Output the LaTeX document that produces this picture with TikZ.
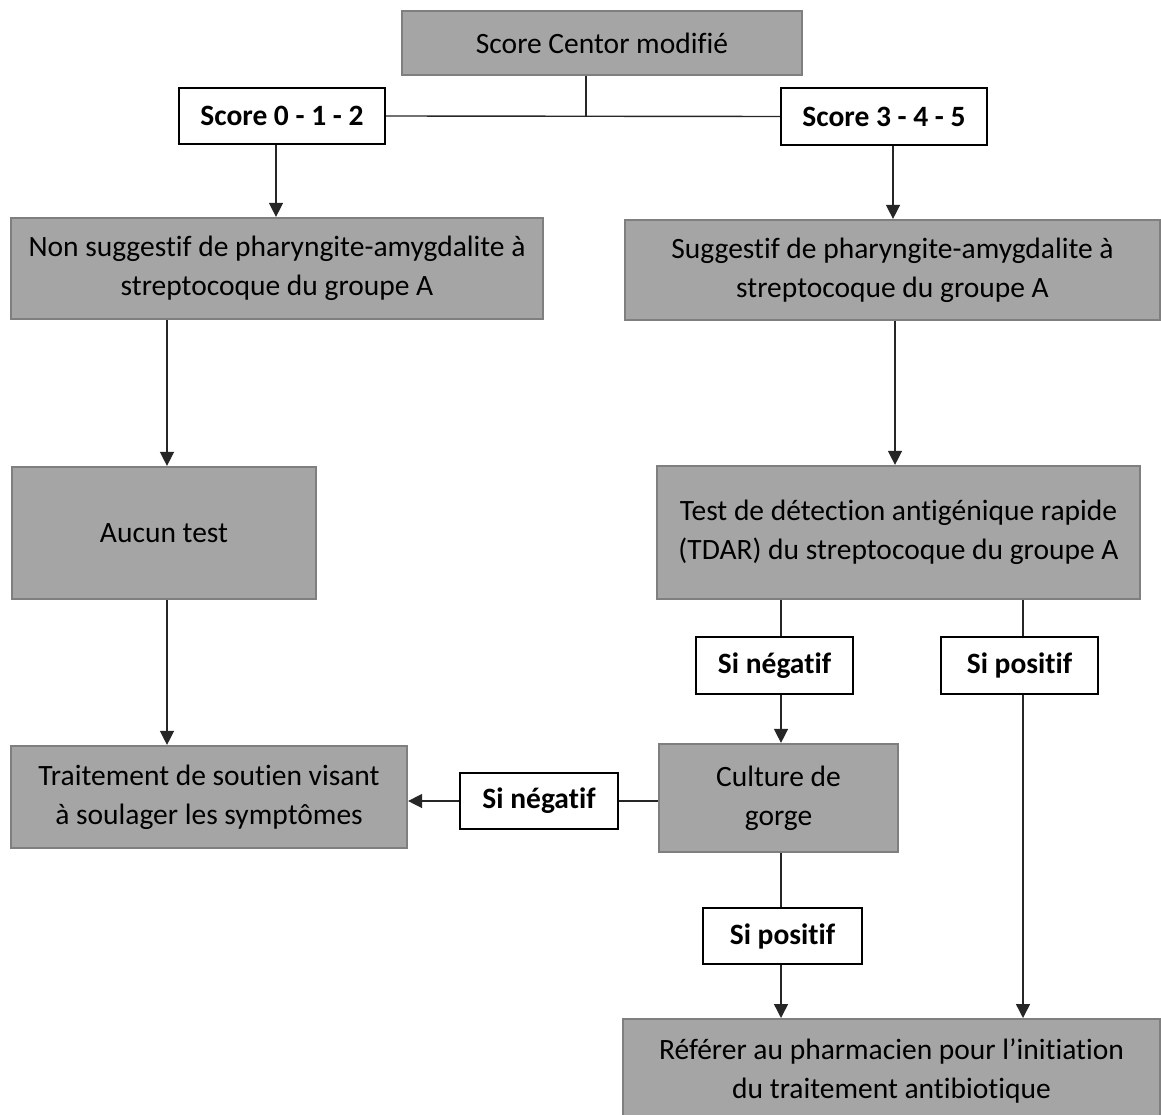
\documentclass[tikz,border=0pt]{standalone}
\usepackage{fontspec}
\setmainfont{Carlito}[Ligatures={NoCommon,NoRare,NoContextual}]
\usetikzlibrary{arrows.meta}
\definecolor{boxgray}{HTML}{A5A5A5}
\definecolor{edgegray}{HTML}{7F7F7F}
\definecolor{linegray}{HTML}{262626}
\begin{document}
\begin{tikzpicture}[x=1pt,y=-1pt,
  graybox/.style={draw=edgegray,fill=boxgray,line width=2.2pt,inner sep=0pt,align=center,
    font=\fontsize{29.5}{39}\selectfont},
  labelbox/.style={draw=black,fill=white,line width=1.8pt,inner sep=0pt,align=center,
    font=\fontsize{29.5}{39}\selectfont\bfseries},
  conn/.style={draw=linegray,line width=1.4pt},
  arr/.style={conn,-{Triangle[width=14pt,length=14pt]}}]
\useasboundingbox (0,0) rectangle (1161,1115);
% boxes
\node[graybox,minimum width=400pt,minimum height=64pt] (top) at (602,43) {Score Centor modifié};
\node[labelbox,minimum width=206pt,minimum height=56pt] (s012) at (282,116) {Score 0 - 1 - 2};
\node[labelbox,minimum width=206pt,minimum height=57pt] (s345) at (884,116.5) {Score 3 - 4 - 5};
\node[graybox,minimum width=532pt,minimum height=101pt] (nonsug) at (277,268.5) {Non suggestif de pharyngite-amygdalite à\\streptocoque du groupe A};
\node[graybox,minimum width=535pt,minimum height=100pt] (sug) at (892.5,270) {Suggestif de pharyngite-amygdalite à\\streptocoque du groupe A};
\node[graybox,minimum width=304pt,minimum height=132pt] (aucun) at (164,533) {Aucun test};
\node[graybox,minimum width=483pt,minimum height=133pt] (tdar) at (898.5,532.5) {Test de détection antigénique rapide\\(TDAR) du streptocoque du groupe A};
\node[labelbox,minimum width=157pt,minimum height=57pt] (sineg1) at (774.5,665.5) {Si négatif};
\node[labelbox,minimum width=157pt,minimum height=57pt] (sipos1) at (1019.5,665.5) {Si positif};
\node[graybox,minimum width=239pt,minimum height=108pt] (culture) at (778.5,798) {Culture de\\gorge};
\node[labelbox,minimum width=158pt,minimum height=56pt] (sineg2) at (539,801) {Si négatif};
\node[graybox,minimum width=396pt,minimum height=102pt] (trait) at (209,797) {Traitement de soutien visant\\à soulager les symptômes};
\node[labelbox,minimum width=159pt,minimum height=56pt] (sipos2) at (782.5,936) {Si positif};
\node[graybox,minimum width=537pt,minimum height=104pt,anchor=north] (referer) at (891.5,1018) {Référer au pharmacien pour l’initiation\\du traitement antibiotique};
% connector x positions
\coordinate (j) at (586,116.5);
\coordinate (xa) at (276,0);
\coordinate (xb) at (893,0);
\coordinate (xc) at (167,0);
\coordinate (xd) at (895,0);
\coordinate (xe) at (781,0);
\coordinate (xf) at (1023,0);
% connectors
\draw[conn] (top.south -| j) -- (j);
\draw[conn] (s012.east) -- (s345.west);
\draw[arr] (s012.south -| xa) -- (nonsug.north -| xa);
\draw[arr] (s345.south -| xb) -- (sug.north -| xb);
\draw[arr] (nonsug.south -| xc) -- (aucun.north -| xc);
\draw[arr] (sug.south -| xd) -- (tdar.north -| xd);
\draw[arr] (aucun.south -| xc) -- (trait.north -| xc);
\draw[conn] (tdar.south -| xe) -- (sineg1.north -| xe);
\draw[arr] (sineg1.south -| xe) -- (culture.north -| xe);
\draw[conn] (tdar.south -| xf) -- (sipos1.north -| xf);
\draw[arr] (sipos1.south -| xf) -- (referer.north -| xf);
\draw[conn] (sineg2.east -| culture.west) -- (sineg2.east);
\draw[arr] (sineg2.west) -- (sineg2.west -| trait.east);
\draw[conn] (culture.south -| xe) -- (sipos2.north -| xe);
\draw[arr] (sipos2.south -| xe) -- (referer.north -| xe);
\end{tikzpicture}
\end{document}
